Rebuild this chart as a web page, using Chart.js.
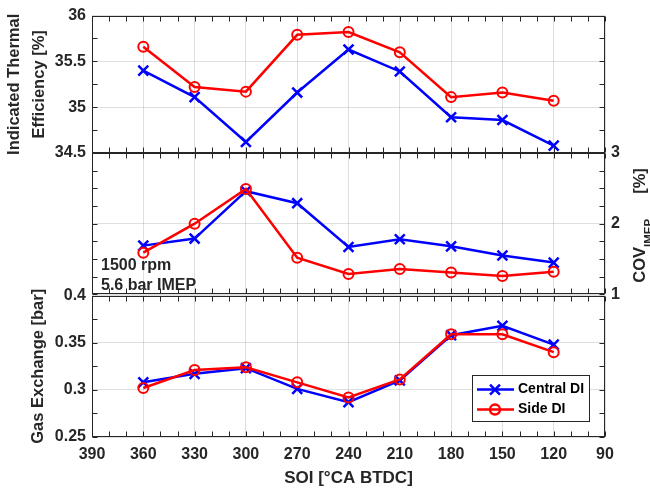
<!DOCTYPE html>
<html>
<head>
<meta charset="utf-8">
<script src="https://cdn.jsdelivr.net/npm/chart.js@4.4.0/dist/chart.umd.min.js"></script>
<style>
  body { margin: 0; background: #fff; }
  #wrap { position: relative; width: 650px; height: 492px; overflow: hidden; }
  #wrap canvas { position: absolute; left: 0; }
</style>
</head>
<body>
<div id="wrap">
  <canvas id="effChart" width="650" height="170" style="top:0"></canvas>
  <canvas id="covChart" width="650" height="180" style="top:130px"></canvas>
  <canvas id="gasChart" width="650" height="212" style="top:280px"></canvas>
</div>
<script>
// SOI sweep, degrees crank angle before TDC
const soi = [360, 330, 300, 270, 240, 210, 180, 150, 120];
const seriesNames = ['Central DI', 'Side DI'];

const effCentral = [35.40, 35.11, 34.62, 35.16, 35.63, 35.39, 34.89, 34.86, 34.58];
const effSide = [35.66, 35.22, 35.17, 35.79, 35.82, 35.60, 35.11, 35.16, 35.07];

const covCentral = [1.69, 1.79, 2.46, 2.29, 1.67, 1.78, 1.68, 1.55, 1.45];
const covSide = [1.59, 2.00, 2.49, 1.52, 1.29, 1.36, 1.31, 1.26, 1.32];

const gasCentral = [0.308, 0.317, 0.323, 0.301, 0.287, 0.310, 0.358, 0.368, 0.348];
const gasSide = [0.302, 0.321, 0.324, 0.308, 0.292, 0.311, 0.359, 0.359, 0.340];

const soiTicks = [390, 360, 330, 300, 270, 240, 210, 180, 150, 120, 90];
const effTicks = [34.5, 35, 35.5, 36];
const covTicks = [1, 2, 3];
const gasTicks = [0.25, 0.3, 0.35, 0.4];

const blue = '#0000ff';
const red = '#ff0000';
const gridGray = 'rgba(38,38,38,0.15)';
const frameColor = '#262626';
const fontFamily = '"Liberation Sans", Arial, sans-serif';
const tickLen = 5;

function findTick(list, v) {
  return list.find(t => Math.abs(t - v) < 1e-6);
}

function labelFrom(list) {
  return value => {
    const t = findTick(list, value);
    return t === undefined ? '' : String(t);
  };
}

function gridFrom(list) {
  return c => (c.tick && findTick(list, c.tick.value) !== undefined) ? gridGray : 'rgba(0,0,0,0)';
}

function makeDatasets(central, side) {
  return [
    {
      label: seriesNames[0],
      data: soi.map((x, i) => ({ x: x, y: central[i] })),
      borderColor: blue,
      backgroundColor: blue,
      borderWidth: 2.5,
      pointStyle: 'crossRot',
      pointRadius: 7,
      pointBorderWidth: 2.5,
      pointBorderColor: blue,
      tension: 0,
      order: 1
    },
    {
      label: seriesNames[1],
      data: soi.map((x, i) => ({ x: x, y: side[i] })),
      borderColor: red,
      backgroundColor: red,
      borderWidth: 2.5,
      pointStyle: 'circle',
      pointRadius: 5,
      pointBorderWidth: 2,
      pointBorderColor: red,
      pointBackgroundColor: 'rgba(0,0,0,0)',
      tension: 0,
      order: 0
    }
  ];
}

function xScale(showLabels) {
  return {
    type: 'linear',
    reverse: true,
    min: 90,
    max: 390,
    border: { display: false },
    grid: { color: gridFrom(soiTicks), drawTicks: false, lineWidth: 1 },
    ticks: {
      display: showLabels,
      stepSize: 10,
      autoSkip: false,
      maxRotation: 0,
      padding: 8,
      color: frameColor,
      font: { family: fontFamily, size: 16, weight: 'bold' },
      callback: labelFrom(soiTicks)
    },
    title: {
      display: showLabels,
      text: 'SOI [°CA BTDC]',
      color: frameColor,
      font: { family: fontFamily, size: 17, weight: 'bold', lineHeight: 1.2 },
      padding: { top: 0, bottom: 3.8 }
    },
    afterFit: s => { s.height = showLabels ? 55 : 0; }
  };
}

function yScale(list, step, pos, width, title, titlePad, titleLH) {
  return {
    type: 'linear',
    position: pos,
    min: list[0],
    max: list[list.length - 1],
    border: { display: false },
    grid: { color: gridFrom(list), drawTicks: false, lineWidth: 1 },
    ticks: {
      stepSize: step,
      autoSkip: false,
      padding: 6,
      color: frameColor,
      font: { family: fontFamily, size: 16, weight: 'bold' },
      callback: labelFrom(list)
    },
    title: {
      display: !!title,
      text: title || '',
      color: frameColor,
      font: { family: fontFamily, size: 16.5, weight: 'bold', lineHeight: titleLH },
      padding: { top: titlePad, bottom: 0 }
    },
    afterFit: s => { s.width = width; }
  };
}

// inward tick marks on all four sides plus the box outline
const boxTicks = {
  id: 'boxTicks',
  afterDatasetsDraw(chart) {
    const { ctx, chartArea: a, scales } = chart;
    const L = Math.round(a.left) + 0.5, R = Math.round(a.right) - 0.5;
    const T = Math.round(a.top) + 0.5, B = Math.round(a.bottom) - 0.5;
    ctx.save();
    ctx.strokeStyle = frameColor;
    ctx.lineWidth = 1;
    ctx.beginPath();
    scales.x.ticks.forEach(t => {
      const px = Math.round(scales.x.getPixelForValue(t.value)) + 0.5;
      ctx.moveTo(px, T); ctx.lineTo(px, T + tickLen);
      ctx.moveTo(px, B); ctx.lineTo(px, B - tickLen);
    });
    scales.y.ticks.forEach(t => {
      const py = Math.round(scales.y.getPixelForValue(t.value)) + 0.5;
      ctx.moveTo(L, py); ctx.lineTo(L + tickLen, py);
      ctx.moveTo(R, py); ctx.lineTo(R - tickLen, py);
    });
    ctx.stroke();
    ctx.strokeRect(L, T, R - L, B - T);
    ctx.restore();
  }
};

function baseOptions(xs, ys, padding) {
  return {
    responsive: false,
    animation: false,
    layout: { padding: padding },
    scales: { x: xs, y: ys },
    plugins: { legend: { display: false }, tooltip: { enabled: false } }
  };
}

// top panel: thermal efficiency
new Chart(document.getElementById('effChart'), {
  type: 'line',
  data: { datasets: makeDatasets(effCentral, effSide) },
  options: baseOptions(
    xScale(false),
    yScale(effTicks, 0.25, 'left', 92, ['Indicated Thermal', 'Efficiency [%]'], 1.5, 1.515),
    { top: 12, bottom: 17, left: 0, right: 45 }
  ),
  plugins: [boxTicks]
});

// middle panel: COV of IMEP, right axis, with operating point note
const covDecor = {
  id: 'covDecor',
  afterDraw(chart) {
    const ctx = chart.ctx;
    const a = chart.chartArea;
    ctx.save();
    ctx.fillStyle = frameColor;
    ctx.textBaseline = 'middle';
    ctx.textAlign = 'left';
    ctx.font = 'bold 16px ' + fontFamily;
    ctx.fillText('1500 rpm', a.left + 9, a.bottom - 29);
    ctx.fillText('5.6 bar IMEP', a.left + 9, a.bottom - 9);

    // rotated axis title with subscript
    const midY = (a.top + a.bottom) / 2;
    ctx.translate(640, midY + 59);
    ctx.rotate(-Math.PI / 2);
    ctx.font = 'bold 16.5px ' + fontFamily;
    ctx.fillText('COV', 0, 0);
    let x = ctx.measureText('COV').width;
    ctx.font = 'bold 11.5px ' + fontFamily;
    ctx.fillText('IMEP', x, 9);
    x += ctx.measureText('IMEP').width + 25;
    ctx.font = 'bold 16.5px ' + fontFamily;
    ctx.fillText('[%]', x, 0);
    ctx.restore();
  }
};

new Chart(document.getElementById('covChart'), {
  type: 'line',
  data: { datasets: makeDatasets(covCentral, covSide) },
  options: baseOptions(
    xScale(false),
    yScale(covTicks, 0.25, 'right', 45, null, 0, 1.2),
    { top: 23, bottom: 15, left: 92, right: 0 }
  ),
  plugins: [boxTicks, covDecor]
});

// bottom panel: gas exchange, with boxed legend
const boxLegend = {
  id: 'boxLegend',
  afterDraw(chart) {
    const ctx = chart.ctx;
    const a = chart.chartArea;
    const bx = a.right - 133, by = a.top + 79, bw = 117, bh = 46;
    ctx.save();
    ctx.fillStyle = '#fff';
    ctx.fillRect(bx, by, bw, bh);
    ctx.strokeStyle = frameColor;
    ctx.lineWidth = 1;
    ctx.strokeRect(Math.round(bx) + 0.5, Math.round(by) + 0.5, bw, bh);
    chart.data.datasets.forEach((ds, i) => {
      const yy = by + 15 + i * 20;
      ctx.strokeStyle = ds.borderColor;
      ctx.lineWidth = ds.borderWidth;
      ctx.beginPath();
      ctx.moveTo(bx + 5, yy);
      ctx.lineTo(bx + 42, yy);
      ctx.stroke();
      ctx.fillStyle = ds.pointBackgroundColor || ds.borderColor;
      Chart.helpers.drawPoint(ctx, {
        pointStyle: ds.pointStyle,
        radius: ds.pointRadius,
        borderWidth: ds.pointBorderWidth,
        rotation: 0
      }, bx + 23, yy);
      ctx.fillStyle = '#000';
      ctx.font = 'bold 14px ' + fontFamily;
      ctx.textBaseline = 'middle';
      ctx.textAlign = 'left';
      ctx.fillText(ds.label, bx + 46, yy);
    });
    ctx.restore();
  }
};

new Chart(document.getElementById('gasChart'), {
  type: 'line',
  data: { datasets: makeDatasets(gasCentral, gasSide) },
  options: baseOptions(
    xScale(true),
    yScale(gasTicks, 0.025, 'left', 92, 'Gas Exchange [bar]', 28.1, 1.2),
    { top: 15, bottom: 0, left: 0, right: 45 }
  ),
  plugins: [boxTicks, boxLegend]
});
</script>
</body>
</html>
